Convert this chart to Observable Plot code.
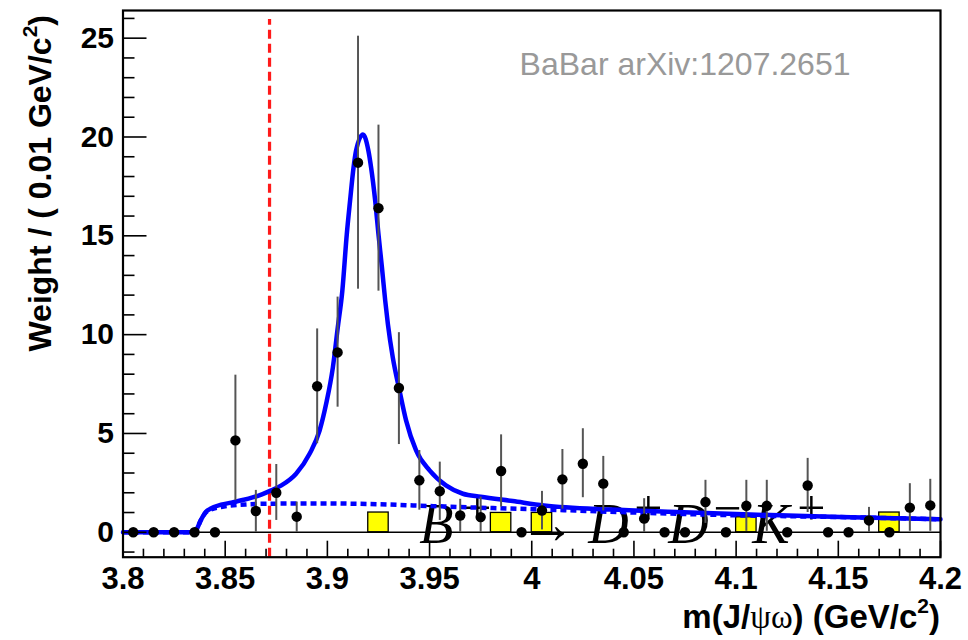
<!DOCTYPE html>
<html><head><meta charset="utf-8">
<script src="https://cdn.jsdelivr.net/npm/d3@7"></script>
<script src="https://cdn.jsdelivr.net/npm/@observablehq/plot@0.6"></script>
<style>body{margin:0;background:#fff;} svg{display:block;background:#fff}</style>
</head><body><div id="chart"></div>
<script>
// ---- data ----
const binCenters = [3.805,3.815,3.825,3.835,3.845,3.855,3.865,3.875,3.885,3.895,3.905,3.915,3.925,3.935,3.945,3.955,3.965,3.975,3.985,3.995,4.005,4.015,4.025,4.035,4.045,4.055,4.065,4.075,4.085,4.095,4.105,4.115,4.125,4.135,4.145,4.155,4.165,4.175,4.185,4.195];
const weights   = [0,0,0,0,0,4.65,1.08,2.0,0.79,7.39,9.1,18.7,16.4,7.3,2.63,2.08,0.85,0.77,3.1,0,1.1,2.68,3.47,2.46,0,0.69,0,0,1.53,0,1.34,1.34,0,2.37,0,0,0.6,0,1.25,1.36];
const errLow    = [0,0,0,0,0,1.6,0,0.6,0,4.48,6.33,12.3,12.2,4.44,1.12,0.6,0,0,1.28,0,0.12,1.17,1.75,1.08,0,0,0,0,0.45,0,0.05,0.05,0,1.0,0,0,0,0,0.05,0.05];
const errHigh   = [0,0,0,0,0,7.95,2.12,3.43,1.53,10.29,11.9,25.1,20.6,10.1,4.14,3.55,1.67,1.78,4.93,0,2.07,4.19,5.24,3.84,0,1.7,0,0,2.63,0,2.63,2.63,0,3.74,0,0,1.26,0,2.46,2.68];

// yellow histogram boxes
const boxLow    = [3.92, 3.98, 4.00, 4.10, 4.17];
const boxHigh   = [3.93, 3.99, 4.01, 4.11, 4.18];
const boxHeight = [1.0, 0.98, 0.98, 0.76, 1.0];

// total fit (solid)
const fitX = [3.800,3.834,3.836,3.838,3.8405,3.843,3.848,3.853,3.858,3.863,3.868,3.8725,3.8775,3.8847,3.8913,3.8962,3.8994,3.9027,3.9051,3.9073,3.9095,3.9111,3.9128,3.914,3.9174,3.9201,3.9214,3.9234,3.925,3.9267,3.9283,3.9296,3.932,3.9353,3.9385,3.9434,3.950,3.958,3.9663,3.975,3.9907,4.006,4.0386,4.071,4.1036,4.151,4.200];
const fitY = [0,0,0.15,0.6,1.03,1.2,1.4,1.5,1.62,1.75,1.92,2.12,2.37,2.96,3.97,5.15,6.5,8.35,10.37,12.2,15.08,16.77,18.45,19.29,20.13,19.29,18.45,16.77,15.08,13.4,11.72,10.54,8.85,7.17,5.66,4.14,3.13,2.37,1.95,1.8,1.58,1.36,1.15,1.03,0.91,0.77,0.66];

// background (dashed)
const bkgX = [3.800,3.834,3.836,3.838,3.8405,3.843,3.848,3.86,3.875,3.90,3.925,3.942,3.97,4.007,4.05,4.10,4.151,4.200];
const bkgY = [0,0,0.15,0.6,1.0,1.15,1.28,1.41,1.45,1.46,1.42,1.36,1.26,1.15,1.0,0.86,0.77,0.66];

const x3872 = [3.8717];

const xMajorTicks = [3.8,3.85,3.9,3.95,4.0,4.05,4.1,4.15,4.2];
const xTickLabels = ["3.8","3.85","3.9","3.95","4","4.05","4.1","4.15","4.2"];
const xMinorTicks = [3.81,3.82,3.83,3.84,3.86,3.87,3.88,3.89,3.91,3.92,3.93,3.94,3.96,3.97,3.98,3.99,4.01,4.02,4.03,4.04,4.06,4.07,4.08,4.09,4.11,4.12,4.13,4.14,4.16,4.17,4.18,4.19];
const yMajorTicks = [0,5,10,15,20,25];
const yTickLabels = ["0","5","10","15","20","25"];
const yMinorTicks = [-1,1,2,3,4,6,7,8,9,11,12,13,14,16,17,18,19,21,22,23,24,26];

const xTitle = ["m(J/", "ψω", ") (GeV/c", "2", ")"];
const yTitle = ["Weight / ( 0.01 GeV/c", "2", ")"];
const watermark = "BaBar arXiv:1207.2651";
const formulaParts = [
  {t:"B", sup:false, dx:0},
  {t:"+", sup:true,  dx:44},
  {t:"→", sup:false, dx:100},
  {t:"D", sup:false, dx:169},
  {t:"+", sup:true,  dx:215},
  {t:"D", sup:false, dx:249},
  {t:"−", sup:true,  dx:294},
  {t:"K", sup:false, dx:333},
  {t:"+", sup:true,  dx:378}
];
const formulaAnchor = [3.9452, -0.567];

// ---- build tables ----
const pts = binCenters.map((x,i)=>({x, w:weights[i], lo:errLow[i], hi:errHigh[i]}));
const boxes = boxLow.map((x0,i)=>({x0, x1:boxHigh[i], h:boxHeight[i]}));
const fit = fitX.map((x,i)=>({x, y:fitY[i]}));
const bkg = bkgX.map((x,i)=>({x, y:bkgY[i]}));

const W = 968, H = 640;
const mL = 122.5, mR = 28, mT = 10, mB = 83.3;
const innerW = W - mL - mR, innerH = H - mT - mB;
const sans = "'Liberation Sans', Arial, Helvetica, sans-serif";

const plot = Plot.plot({
  width: W, height: H,
  marginLeft: mL, marginRight: mR, marginTop: mT, marginBottom: mB,
  x: {domain: [3.8, 4.2], axis: null},
  y: {domain: [-1.26, 26.4], axis: null},
  style: {background: "white", fontFamily: sans},
  marks: [
    Plot.rect(boxes, {x1:"x0", x2:"x1", y1:0, y2:"h", fill:"#ffff00", stroke:"black", strokeWidth:1.3}),
    Plot.ruleY([0], {stroke:"black", strokeWidth:1.6}),
    Plot.ruleX(x3872, {y1:-1.26, y2:25.95, stroke:"#ff1a1a", strokeWidth:3.2, strokeDasharray:"9,5"}),
    Plot.line(bkg, {x:"x", y:"y", stroke:"#0000ff", strokeWidth:4.5, strokeDasharray:"6,4", strokeLinecap:"butt", curve:"monotone-x"}),
    Plot.line(fit, {x:"x", y:"y", stroke:"#0000ff", strokeWidth:4.5, curve:"monotone-x"}),
    Plot.ruleX(pts.filter(d=>d.hi>d.lo), {x:"x", y1:"lo", y2:"hi", stroke:"#555", strokeWidth:2}),
    Plot.dot(pts, {x:"x", y:"w", r:5.2, fill:"black", stroke:null}),
    // ticks (inside, ROOT style)
    Plot.tickY(yMajorTicks, {y:d=>d, insetRight: innerW - 24, stroke:"black", strokeWidth:1.6}),
    Plot.tickY(yMinorTicks, {y:d=>d, insetRight: innerW - 12, stroke:"black", strokeWidth:1.6}),
    Plot.tickX(xMajorTicks, {x:d=>d, insetTop: innerH - 16, stroke:"black", strokeWidth:1.6}),
    Plot.tickX(xMinorTicks, {x:d=>d, insetTop: innerH - 8, stroke:"black", strokeWidth:1.6}),
    Plot.frame({stroke:"black", strokeWidth:2.2}),
    // tick labels
    Plot.text(yMajorTicks, {y:d=>d, text:(d,i)=>yTickLabels[i], frameAnchor:"left", dx:-9, textAnchor:"end", lineAnchor:"middle", fontSize:30, fontWeight:"bold", fill:"black"}),
    Plot.text(xMajorTicks, {x:d=>d, text:(d,i)=>xTickLabels[i], frameAnchor:"bottom", dy:22, lineAnchor:"middle", fontSize:31, fontWeight:"bold", fill:"black"}),
    Plot.text([watermark], {frameAnchor:"top-right", dx:-90, dy:54, textAnchor:"end", lineAnchor:"middle", fontSize:32, fill:"#999"})
  ]
});

const svg = d3.select(plot);
const X = plot.scale("x"), Y = plot.scale("y");

// formula drawn behind the data
const fx = X.apply(formulaAnchor[0]), fy = Y.apply(formulaAnchor[1]);
const ft = svg.insert("text", ":first-child")
  .attr("text-anchor", "start")
  .attr("font-family", "'Liberation Serif', 'DejaVu Serif', serif")
  .attr("font-size", 56).attr("fill", "black");
formulaParts.forEach(p => {
  ft.append("tspan")
    .attr("x", fx + p.dx).attr("y", fy + (p.sup ? -18 : 0))
    .attr("font-size", p.sup ? 50 : 56)
    .attr("font-style", p.sup || p.t === "→" ? "normal" : "italic")
    .text(p.t);
});

// x title
const xt = svg.append("text").attr("x", X.apply(4.2)).attr("y", H - 12)
  .attr("text-anchor", "end").attr("font-family", sans).attr("font-weight", "bold")
  .attr("font-size", 33).attr("fill", "black");
xt.append("tspan").text(xTitle[0]);
xt.append("tspan").attr("font-family", "'Liberation Serif', serif").attr("font-weight", "normal").text(xTitle[1]);
xt.append("tspan").text(xTitle[2]);
xt.append("tspan").attr("font-size", 21).attr("dy", -15).text(xTitle[3]);
xt.append("tspan").attr("dy", 15).text(xTitle[4]);

// y title
const yt = svg.append("text").attr("transform", `translate(51,15) rotate(-90)`)
  .attr("text-anchor", "end").attr("font-family", sans).attr("font-weight", "bold")
  .attr("font-size", 32).attr("fill", "black");
yt.append("tspan").text(yTitle[0]);
yt.append("tspan").attr("font-size", 21).attr("dy", -14).text(yTitle[1]);
yt.append("tspan").attr("dy", 14).text(yTitle[2]);

document.getElementById("chart").appendChild(plot);
</script>
</body></html>
